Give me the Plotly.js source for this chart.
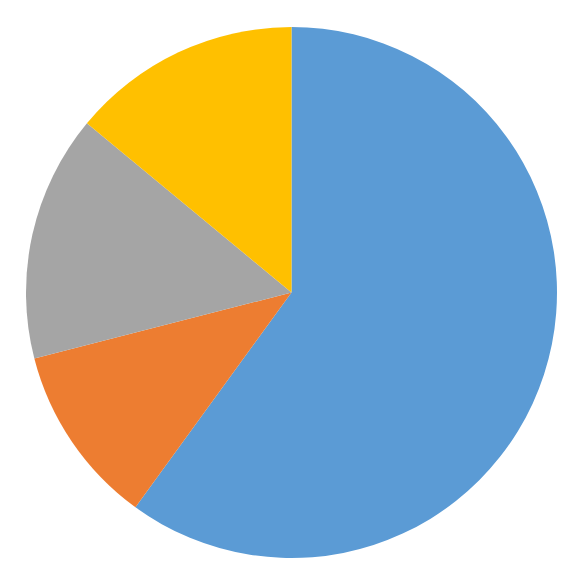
<!doctype html>
<html lang="en">
<head>
    <meta charset="UTF-8">
    <title>Pie chart</title>
    <script src="https://cdn.plot.ly/plotly-3.0.1.min.js"></script>
    <style>
        html, body { margin: 0; padding: 0; background: #ffffff; }
        #chart { width: 584px; height: 586px; }
    </style>
</head>
<body>
    <div id="chart"></div>
    <script>
        // slice data, clockwise from 12 o'clock
        var labels = ['Blue', 'Orange', 'Gray', 'Yellow'];
        var values = [60, 11, 15, 14];
        var colors = ['#5B9BD5', '#ED7D31', '#A5A5A5', '#FFC000'];

        var trace = {
            type: 'pie',
            labels: labels,
            values: values,
            sort: false,
            direction: 'clockwise',
            rotation: 0,
            textinfo: 'none',
            hoverinfo: 'label+percent',
            marker: { colors: colors, line: { width: 0 } },
            domain: { x: [26 / 584, 557 / 584], y: [(586 - 558) / 586, (586 - 27) / 586] }
        };

        var layout = {
            width: 584,
            height: 586,
            margin: { l: 0, r: 0, t: 0, b: 0 },
            showlegend: false,
            paper_bgcolor: '#ffffff'
        };

        Plotly.newPlot('chart', [trace], layout, { displayModeBar: false, staticPlot: true });
    </script>
</body>
</html>
